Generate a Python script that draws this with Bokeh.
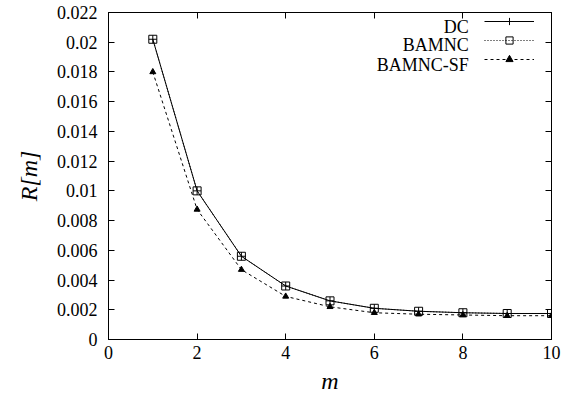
from bokeh.plotting import figure
from bokeh.models import (LinearAxis, Legend, LegendItem, Label, Range1d, FixedTicker)
from bokeh.embed import file_html
from bokeh.resources import INLINE

# ---- data ----
m_values = [1, 2, 3, 4, 5, 6, 7, 8, 9, 10]
dc = [0.0202, 0.0100, 0.0056, 0.0036, 0.0026, 0.0021, 0.0019, 0.0018, 0.00175, 0.00175]
bamnc = [0.0202, 0.0100, 0.0056, 0.0036, 0.0026, 0.0021, 0.0019, 0.0018, 0.00175, 0.00175]
bamnc_sf = [0.0180, 0.00875, 0.0047, 0.0029, 0.0022, 0.0018, 0.0017, 0.00165, 0.0016, 0.0016]
series_names = ["DC", "BAMNC", "BAMNC-SF"]

x_ticks = [0, 2, 4, 6, 8, 10]
y_ticks = [0, 0.002, 0.004, 0.006, 0.008, 0.01, 0.012, 0.014, 0.016, 0.018, 0.02, 0.022]
y_tick_labels = ["0", "0.002", "0.004", "0.006", "0.008", "0.01", "0.012",
                 "0.014", "0.016", "0.018", "0.02", "0.022"]

FONT = "Liberation Serif"

p = figure(width=561, height=398, output_backend="svg", toolbar_location=None,
           x_range=Range1d(0, 10), y_range=Range1d(0, 0.022),
           min_border_left=108, min_border_right=10, min_border_top=12,
           min_border_bottom=59)
p.xgrid.visible = False
p.ygrid.visible = False
p.outline_line_color = "black"
p.outline_line_width = 1
p.background_fill_color = "white"
p.border_fill_color = "white"

def style_axis(ax, ticks, show_labels=True):
    ax.ticker = FixedTicker(ticks=ticks)
    ax.major_tick_in = 6
    ax.major_tick_out = 0
    ax.minor_tick_line_color = None
    ax.axis_line_color = "black"
    ax.major_tick_line_color = "black"
    ax.major_label_text_font = FONT
    ax.major_label_text_font_size = "18px"
    ax.major_label_text_color = "black"
    if not show_labels:
        ax.major_label_text_font_size = "0px"
        ax.major_label_standoff = 0
        ax.major_label_text_alpha = 0

xa = p.xaxis[0]
style_axis(xa, x_ticks)
xa.major_label_standoff = 6
xa.axis_label = "m"
xa.axis_label_text_font = FONT
xa.axis_label_text_font_style = "italic"
xa.axis_label_text_font_size = "24px"
xa.axis_label_text_color = "black"
xa.axis_label_standoff = 6

ya = p.yaxis[0]
style_axis(ya, y_ticks)
ya.major_label_overrides = {t: l for t, l in zip(y_ticks, y_tick_labels)}
ya.major_label_standoff = 11
ya.axis_label = "R[m]"
ya.axis_label_text_font = FONT
ya.axis_label_text_font_style = "italic"
ya.axis_label_text_font_size = "24px"
ya.axis_label_text_color = "black"
ya.axis_label_standoff = 12

top = LinearAxis()
style_axis(top, x_ticks, show_labels=False)
p.add_layout(top, "above")
right = LinearAxis()
style_axis(right, y_ticks, show_labels=False)
p.add_layout(right, "right")

# ---- series ----
l1 = p.line(m_values, dc, line_color="black", line_width=1)
s1 = p.scatter(m_values, dc, marker="cross", size=8, line_color="black", line_width=1)
l2 = p.line(m_values, bamnc, line_color="black", line_width=1, line_dash="1 2")
s2 = p.scatter(m_values, bamnc, marker="square", size=8, line_color="black",
               fill_color=None, line_width=1)
l3 = p.line(m_values, bamnc_sf, line_color="black", line_width=1, line_dash="3 3")
s3 = p.scatter(m_values, bamnc_sf, marker="triangle", size=6, line_color="black",
               fill_color="black", line_width=1)

legend = Legend(items=[LegendItem(label=" ", renderers=[l1, s1]),
                       LegendItem(label=" ", renderers=[l2, s2]),
                       LegendItem(label=" ", renderers=[l3, s3])],
                location="top_right", margin=0, padding=5, spacing=1,
                glyph_width=50, glyph_height=18, label_standoff=17, label_width=0,
                label_text_font_size="1px", label_height=0,
                background_fill_alpha=0, border_line_color=None)
p.add_layout(legend)

label_y = [0.02102, 0.01978, 0.0185]
for name, yy in zip(series_names, label_y):
    p.add_layout(Label(x=8.13, y=yy, text=name, text_align="right",
                       text_baseline="middle", text_font=FONT,
                       text_font_size="18px", text_color="black"))

open("out.html", "w").write(file_html(p, INLINE))
